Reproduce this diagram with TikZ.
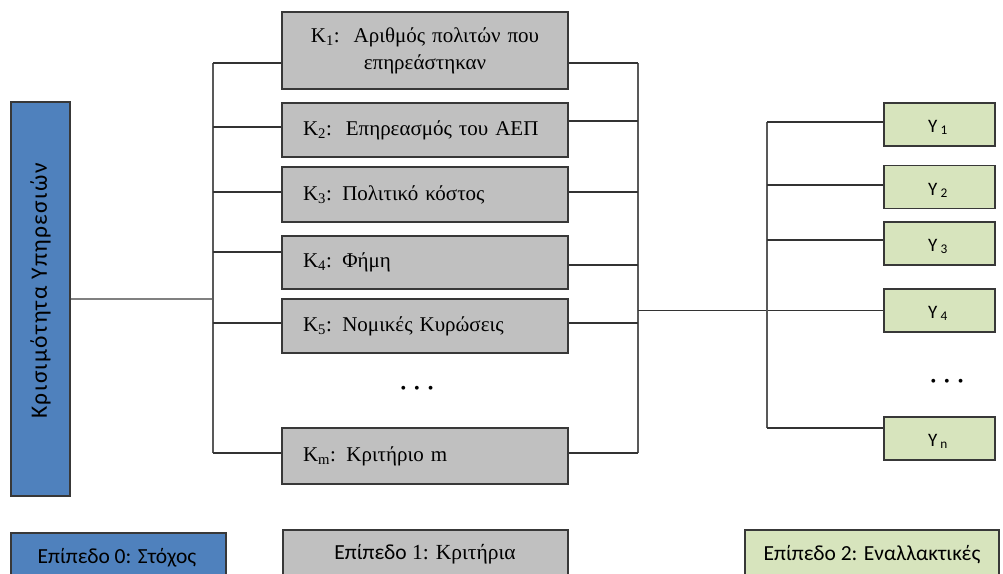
\documentclass[tikz,border=0pt]{standalone}
\usepackage{fontspec}
\setmainfont{Liberation Serif}
\newfontfamily\calfont{Carlito}
\newfontfamily\calspaced[LetterSpace=6]{Carlito}
\begin{document}
\begin{tikzpicture}[x=1pt,y=-1pt,
  boxline/.style={draw=black!78, line width=1.4pt, inner sep=0pt},
  goalbox/.style={boxline, fill=goalblue, minimum width=59pt, minimum height=394pt},
  critbox/.style={boxline, fill=critgray, minimum width=286pt, text width=244pt,
    align=left, font=\fontsize{21}{24}\selectfont},
  altbox/.style={boxline, fill=altgreen, minimum width=111pt, minimum height=43pt},
  altlabel/.style={font=\calfont\fontsize{19}{20}\selectfont, anchor=base},
  legendtext/.style={font=\calfont\fontsize{21.5}{24}\selectfont, anchor=base},
  link/.style={draw=black!80, line width=1.3pt},
  bus/.style={draw=black!65, line width=1.7pt},
  dots/.style={font=\fontsize{16}{16}\selectfont, inner sep=0pt}
]
\definecolor{goalblue}{HTML}{4F81BD}
\definecolor{critgray}{HTML}{C0C0C0}
\definecolor{altgreen}{HTML}{D7E4BD}
\useasboundingbox (0,0) rectangle (1003,573);
\clip (0,0) rectangle (1003,573);

% goal
\node[goalbox] (goal) at (40.5,299) {};
\node[rotate=90, font=\calspaced\fontsize{23.5}{24}\selectfont] (goaltext) at (40.5,291) {Κρισιμότητα Υπηρεσιών};

% criteria
\node[critbox, minimum height=77pt, align=center] (k1) at (425,50.5)
  {K\textsubscript{1}:\ \ Αριθμός πολιτών που\\[3pt]επηρεάστηκαν};
\node[critbox, minimum height=54pt] (k2) at (425,130) {K\textsubscript{2}:\ \ Επηρεασμός του ΑΕΠ};
\node[critbox, minimum height=55pt] (k3) at (425,194.5) {K\textsubscript{3}: Πολιτικό κόστος};
\node[critbox, minimum height=53pt] (k4) at (425,262.5) {K\textsubscript{4}: Φήμη};
\node[critbox, minimum height=54pt] (k5) at (425,326) {K\textsubscript{5}: Νομικές Κυρώσεις};
\node[critbox, minimum height=56pt] (km) at (425,456) {K\textsubscript{m}: Κριτήριο m};
\node[dots] (kdots) at (417,390) {•\hspace{8pt}•\hspace{8pt}•};

% alternatives
\node[altbox] (y1) at (939.5,124.5) {};
\node[altbox] (y2) at (939.5,187) {};
\node[altbox] (y3) at (939.5,243.5) {};
\node[altbox] (y4) at (939.5,310.5) {};
\node[altbox] (yn) at (939.5,438.5) {};
\node[altlabel] (y1text) at (938,132) {Y\,\textsubscript{1}};
\node[altlabel] (y2text) at (938,195) {Y\,\textsubscript{2}};
\node[altlabel] (y3text) at (938,251) {Y\,\textsubscript{3}};
\node[altlabel] (y4text) at (938,318) {Y\,\textsubscript{4}};
\node[altlabel] (yntext) at (938,446) {Y\,\textsubscript{n}};
\node[dots] (ydots) at (947,383) {•\hspace{8pt}•\hspace{8pt}•};

% bus columns
\coordinate (lbus) at (213,0);
\coordinate (rbus) at (638,0);
\coordinate (abus) at (767,0);

% goal to left bus
\draw[draw=black!50, line width=2pt] (goal.east) -- (goal.east -| lbus);
\draw[bus] ([yshift=-12.5pt]k1.west -| lbus) -- ([yshift=3pt]km.west -| lbus);
\draw[link] ([yshift=-12.5pt]k1.west) -- ([yshift=-12.5pt]k1.west -| lbus);
\draw[link] ([yshift=3pt]k2.west) -- ([yshift=3pt]k2.west -| lbus);
\draw[link] ([yshift=2.5pt]k3.west) -- ([yshift=2.5pt]k3.west -| lbus);
\draw[link] ([yshift=10.5pt]k4.west) -- ([yshift=10.5pt]k4.west -| lbus);
\draw[link] ([yshift=3pt]k5.west) -- ([yshift=3pt]k5.west -| lbus);
\draw[link] ([yshift=3pt]km.west) -- ([yshift=3pt]km.west -| lbus);

% criteria to right bus
\draw[bus] ([yshift=-12.5pt]k1.east -| rbus) -- ([yshift=3pt]km.east -| rbus);
\draw[link] ([yshift=-12.5pt]k1.east) -- ([yshift=-12.5pt]k1.east -| rbus);
\draw[link] ([yshift=9pt]k2.east) -- ([yshift=9pt]k2.east -| rbus);
\draw[link] ([yshift=2.5pt]k3.east) -- ([yshift=2.5pt]k3.east -| rbus);
\draw[link] ([yshift=-2.5pt]k4.east) -- ([yshift=-2.5pt]k4.east -| rbus);
\draw[link] ([yshift=3pt]k5.east) -- ([yshift=3pt]k5.east -| rbus);
\draw[link] ([yshift=3pt]km.east) -- ([yshift=3pt]km.east -| rbus);

% right bus to alternatives
\draw[link] (y4.west -| rbus) -- (y4.west);
\draw[bus] ([yshift=2.5pt]y1.west -| abus) -- ([yshift=10.5pt]yn.west -| abus);
\draw[link] ([yshift=2.5pt]y1.west -| abus) -- ([yshift=2.5pt]y1.west);
\draw[link] ([yshift=2pt]y2.west -| abus) -- ([yshift=2pt]y2.west);
\draw[link] ([yshift=3.5pt]y3.west -| abus) -- ([yshift=3.5pt]y3.west);
\draw[link] ([yshift=10.5pt]yn.west -| abus) -- ([yshift=10.5pt]yn.west);

% legend
\node[boxline, fill=goalblue, minimum width=215pt, minimum height=60pt] (lev0) at (118.5,563) {};
\node[legendtext] (lev0text) at (117,563) {Επίπεδο 0: Στόχος};
\node[boxline, fill=critgray, minimum width=285pt, minimum height=62pt] (lev1) at (425.5,561) {};
\node[legendtext, font=\fontsize{21.5}{24}\selectfont] (lev1text) at (425,559) {{\calfont Επίπεδο} 1: Κριτήρια};
\node[boxline, fill=altgreen, minimum width=254pt, minimum height=62pt] (lev2) at (872,561) {};
\node[legendtext] (lev2text) at (872,560) {Επίπεδο 2: Εναλλακτικές};
\end{tikzpicture}
\end{document}
